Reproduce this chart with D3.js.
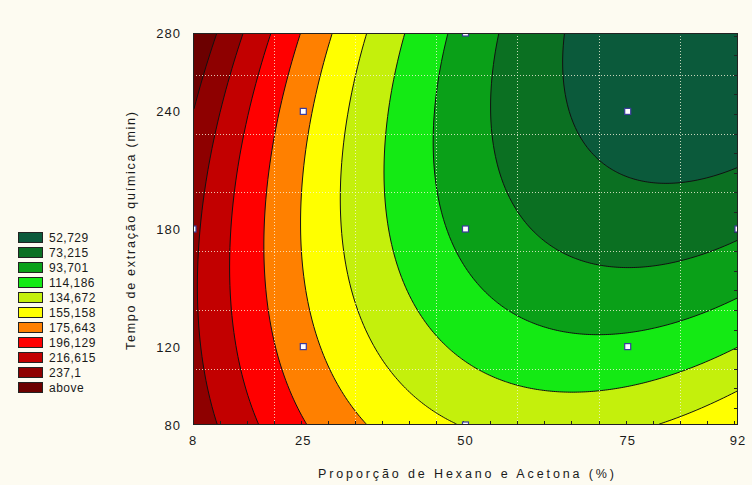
<!DOCTYPE html>
<meta charset="utf-8">
<style>
body { margin: 0; padding: 0; background: #fdfbf1; }
text { font-family: "Liberation Sans", Arial, sans-serif; fill: #1a1a1a; }
</style>
<svg width="752" height="485"></svg>
<script src="https://d3js.org/d3.v7.min.js"></script>
<script>

// contour levels and legend
var levels = [52.729, 73.215, 93.701, 114.186, 134.672, 155.158, 175.643, 196.129, 216.615, 237.1];
var legendLabels = ["52,729", "73,215", "93,701", "114,186", "134,672", "155,158", "175,643", "196,129", "216,615", "237,1", "above"];
var colors = ["#0b5a3b", "#0b7022", "#0aa018", "#14ea14", "#c4f00c", "#ffff00", "#ff8000", "#ff0000", "#c20000", "#8e0000", "#6c0000"];

var xTicks = [8, 25, 50, 75, 92];
var yTicks = [80, 120, 180, 240, 280];
var gridX = [20.5, 33, 45.5, 58, 70.5, 83];
var gridY = [108.7, 138.8, 168.6, 198.7, 228.4, 258.6];

// experimental points
var designX = [25, 25, 50, 50, 50, 75, 75, 8, 92];
var designY = [240, 120, 280, 180, 80, 240, 120, 180, 180];

// positions of each contour line, [x, y]
var trace53 = [[66.1,280],[65.8,261],[66.1,239.2],[67.3,229],[70.7,216.7],[74.9,208.6],[80.0,202.4],[86.6,206],[92.0,211.6]];
var trace73 = [[55.5,280],[54.6,261],[54.2,235.6],[55.0,210],[58.4,189.7],[61.5,176.9],[66.1,165.7],[74.3,159.1],[83.1,162.7],[91.9,169.3]];
var trace94 = [[47.3,280],[46.1,252.4],[45.3,226.9],[45.6,201.4],[46.4,184.6],[48.7,167.8],[51.8,155.5],[56.4,142.2],[61.5,132],[68.7,125.9],[78.9,130],[91.9,143.8]];
var trace114 = [[40.7,280],[39.1,261],[37.9,235.6],[37.4,210],[37.6,184.6],[38.4,167.8],[40.4,147.3],[44.1,130],[50.7,111.6],[55.8,104.5],[61.5,99.4],[66.1,96.8],[73.8,98.9],[83.1,108.1],[91.9,119.3]];
var trace135 = [[34.8,280],[33.0,261],[31.4,235.6],[30.7,210],[30.7,184.6],[31.0,167.8],[31.9,150.4],[34.8,128.5],[37.9,109.6],[41.9,92.8],[46.1,85.1],[49.6,80],[78.9,80],[84.1,86.1],[91.9,96.8]];
var trace155 = [[29.4,280],[27.9,261],[26.0,240.7],[25.0,218.8],[24.5,184.6],[25.6,137],[26.8,128.5],[29.1,111.6],[30.7,99.4],[35.3,80]];
var trace176 = [[24.2,280],[22.2,257],[20.3,231.5],[19.4,206],[18.9,180.5],[19.6,148],[20.2,128.5],[21.4,108],[23.4,94],[25.6,80]];
var trace196 = [[19.9,280],[18.0,257],[16.0,231.5],[14.5,206],[13.7,180.5],[13.9,148],[14.6,122],[15.2,108],[16.8,94],[18.0,80]];
var trace217 = [[15.4,280],[13.7,257],[11.4,231.5],[9.9,206],[9.1,180.5],[8.8,148],[9.2,117],[10.3,97],[11.2,80]];
var trace237 = [[11.1,280],[9.9,257],[8.8,235],[8.2,220]];
var traces = [trace53, trace73, trace94, trace114, trace135, trace155, trace176, trace196, trace217, trace237];

var svg = d3.select("svg"),
    plot = {left: 193, right: 738, top: 33, bottom: 425},
    width = plot.right - plot.left,
    height = plot.bottom - plot.top;

var x = d3.scaleLinear().domain([8, 92]).range([plot.left, plot.right]);
var y = d3.scaleLinear().domain([80, 280]).range([plot.bottom, plot.top]);

// second order response surface, fitted by least squares to the traced lines
function quad(xv, yv) {
  var u = (xv - 50) / 42, v = (yv - 180) / 100;
  return [1, u, v, u * u, u * v, v * v];
}

function fit(basis) {
  var rows = [], rhs = [];
  traces.forEach(function(t, i) {
    t.forEach(function(p) { rows.push(basis(p[0], p[1])); rhs.push(levels[i]); });
  });
  var k = rows[0].length, M = [], b = [];
  for (var i = 0; i < k; i++) { M.push(new Array(k).fill(0)); b.push(0); }
  rows.forEach(function(r, n) {
    for (var i = 0; i < k; i++) {
      for (var j = 0; j < k; j++) M[i][j] += r[i] * r[j];
      b[i] += r[i] * rhs[n];
    }
  });
  for (var c = 0; c < k; c++) {
    var p = c;
    for (var r = c + 1; r < k; r++) if (Math.abs(M[r][c]) > Math.abs(M[p][c])) p = r;
    var tmp = M[c]; M[c] = M[p]; M[p] = tmp;
    var tb = b[c]; b[c] = b[p]; b[p] = tb;
    for (var r = c + 1; r < k; r++) {
      var f = M[r][c] / M[c][c];
      for (var j = c; j < k; j++) M[r][j] -= f * M[c][j];
      b[r] -= f * b[c];
    }
  }
  var coef = new Array(k).fill(0);
  for (var i = k - 1; i >= 0; i--) {
    var s = b[i];
    for (var j = i + 1; j < k; j++) s -= M[i][j] * coef[j];
    coef[i] = s / M[i][i];
  }
  return function(xv, yv) {
    return d3.sum(basis(xv, yv), function(t, i) { return t * coef[i]; });
  };
}

var nx = 273, ny = 196, cw = width / nx, ch = height / ny;
var surface = fit(quad);
var values = new Array(nx * ny);
for (var j = 0; j < ny; j++)
  for (var i = 0; i < nx; i++)
    values[j * nx + i] = surface(x.invert(plot.left + (i + 0.5) * cw), y.invert(plot.top + (j + 0.5) * ch));

var bands = d3.contours().size([nx, ny]).thresholds(levels)(values);

var path = d3.geoPath(d3.geoTransform({
  point: function(px, py) { this.stream.point(plot.left + px * cw, plot.top + py * ch); }
}));

svg.append("clipPath").attr("id", "clip")
  .append("rect")
    .attr("x", plot.left).attr("y", plot.top)
    .attr("width", width).attr("height", height);

var g = svg.append("g").attr("clip-path", "url(#clip)");

g.append("rect")
    .attr("x", plot.left).attr("y", plot.top)
    .attr("width", width).attr("height", height)
    .attr("fill", colors[0]);

g.selectAll("path.band")
  .data(bands)
  .enter().append("path")
    .attr("class", "band")
    .attr("d", path)
    .attr("fill", function(d, i) { return colors[i + 1]; });

g.selectAll("path.line")
  .data(bands)
  .enter().append("path")
    .attr("class", "line")
    .attr("d", path)
    .attr("fill", "none")
    .attr("stroke", "#111")
    .attr("stroke-width", 1);

// dotted grid
g.selectAll("line.gx")
  .data(gridX)
  .enter().append("line")
    .attr("x1", function(d) { return Math.round(x(d)) + 0.5; })
    .attr("x2", function(d) { return Math.round(x(d)) + 0.5; })
    .attr("y1", plot.top).attr("y2", plot.bottom)
    .attr("stroke", "#f6f2dc").attr("stroke-opacity", 0.8)
    .attr("stroke-dasharray", "1,2");

g.selectAll("line.gy")
  .data(gridY)
  .enter().append("line")
    .attr("y1", function(d) { return Math.round(y(d)) + 0.5; })
    .attr("y2", function(d) { return Math.round(y(d)) + 0.5; })
    .attr("x1", plot.left).attr("x2", plot.right)
    .attr("stroke", "#f6f2dc").attr("stroke-opacity", 0.8)
    .attr("stroke-dasharray", "1,2");

// small inner ticks on the bottom and right edges
g.selectAll("line.mx")
  .data(d3.range(8 + 12.5 / 3, 92, 12.5 / 3))
  .enter().append("line")
    .attr("x1", function(d) { return Math.round(x(d)) + 0.5; })
    .attr("x2", function(d) { return Math.round(x(d)) + 0.5; })
    .attr("y1", plot.bottom).attr("y2", plot.bottom - 4)
    .attr("stroke", "#222");

g.selectAll("line.my")
  .data(d3.range(88.7, 280, 10))
  .enter().append("line")
    .attr("y1", function(d) { return Math.round(y(d)) + 0.5; })
    .attr("y2", function(d) { return Math.round(y(d)) + 0.5; })
    .attr("x1", plot.right).attr("x2", plot.right - 4)
    .attr("stroke", "#222");

// experimental points
g.selectAll("rect.pt")
  .data(designX)
  .enter().append("rect")
    .attr("x", function(d) { return x(d) - 3; })
    .attr("y", function(d, i) { return y(designY[i]) - 3; })
    .attr("width", 6).attr("height", 6)
    .attr("fill", "#fff")
    .attr("stroke", "#3c3c9c")
    .attr("stroke-width", 1.2);

svg.append("rect")
    .attr("x", plot.left + 0.5).attr("y", plot.top + 0.5)
    .attr("width", width - 1).attr("height", height - 1)
    .attr("fill", "none")
    .attr("stroke", "#222");

// tick labels
svg.append("g").selectAll("text")
  .data(xTicks)
  .enter().append("text")
    .attr("x", function(d) { return x(d); })
    .attr("y", 445)
    .attr("text-anchor", "middle")
    .attr("font-size", 13)
    .attr("letter-spacing", 1)
    .text(function(d) { return d; });

svg.append("g").selectAll("text")
  .data(yTicks)
  .enter().append("text")
    .attr("x", 181)
    .attr("y", function(d) { return y(d) + 5; })
    .attr("text-anchor", "end")
    .attr("font-size", 13)
    .attr("letter-spacing", 1)
    .text(function(d) { return d; });

svg.append("text")
    .attr("x", 318).attr("y", 478)
    .attr("font-size", 12.5)
    .attr("textLength", 296)
    .attr("lengthAdjust", "spacing")
    .text("Proporção de Hexano e Acetona (%)");

svg.append("text")
    .attr("transform", "translate(135,350) rotate(-90)")
    .attr("font-size", 12.5)
    .attr("textLength", 238)
    .attr("lengthAdjust", "spacing")
    .text("Tempo de extração química (min)");

// legend
var legend = svg.append("g").selectAll("g")
  .data(legendLabels)
  .enter().append("g")
    .attr("transform", function(d, i) { return "translate(0," + (232 + i * 15) + ")"; });

legend.append("rect")
    .attr("x", 18.5).attr("y", 0.5)
    .attr("width", 24).attr("height", 10)
    .attr("fill", function(d, i) { return colors[i]; })
    .attr("stroke", "#222");

legend.append("text")
    .attr("x", 49).attr("y", 10)
    .attr("font-size", 12)
    .attr("letter-spacing", 0.5)
    .text(function(d) { return d; });

</script>
